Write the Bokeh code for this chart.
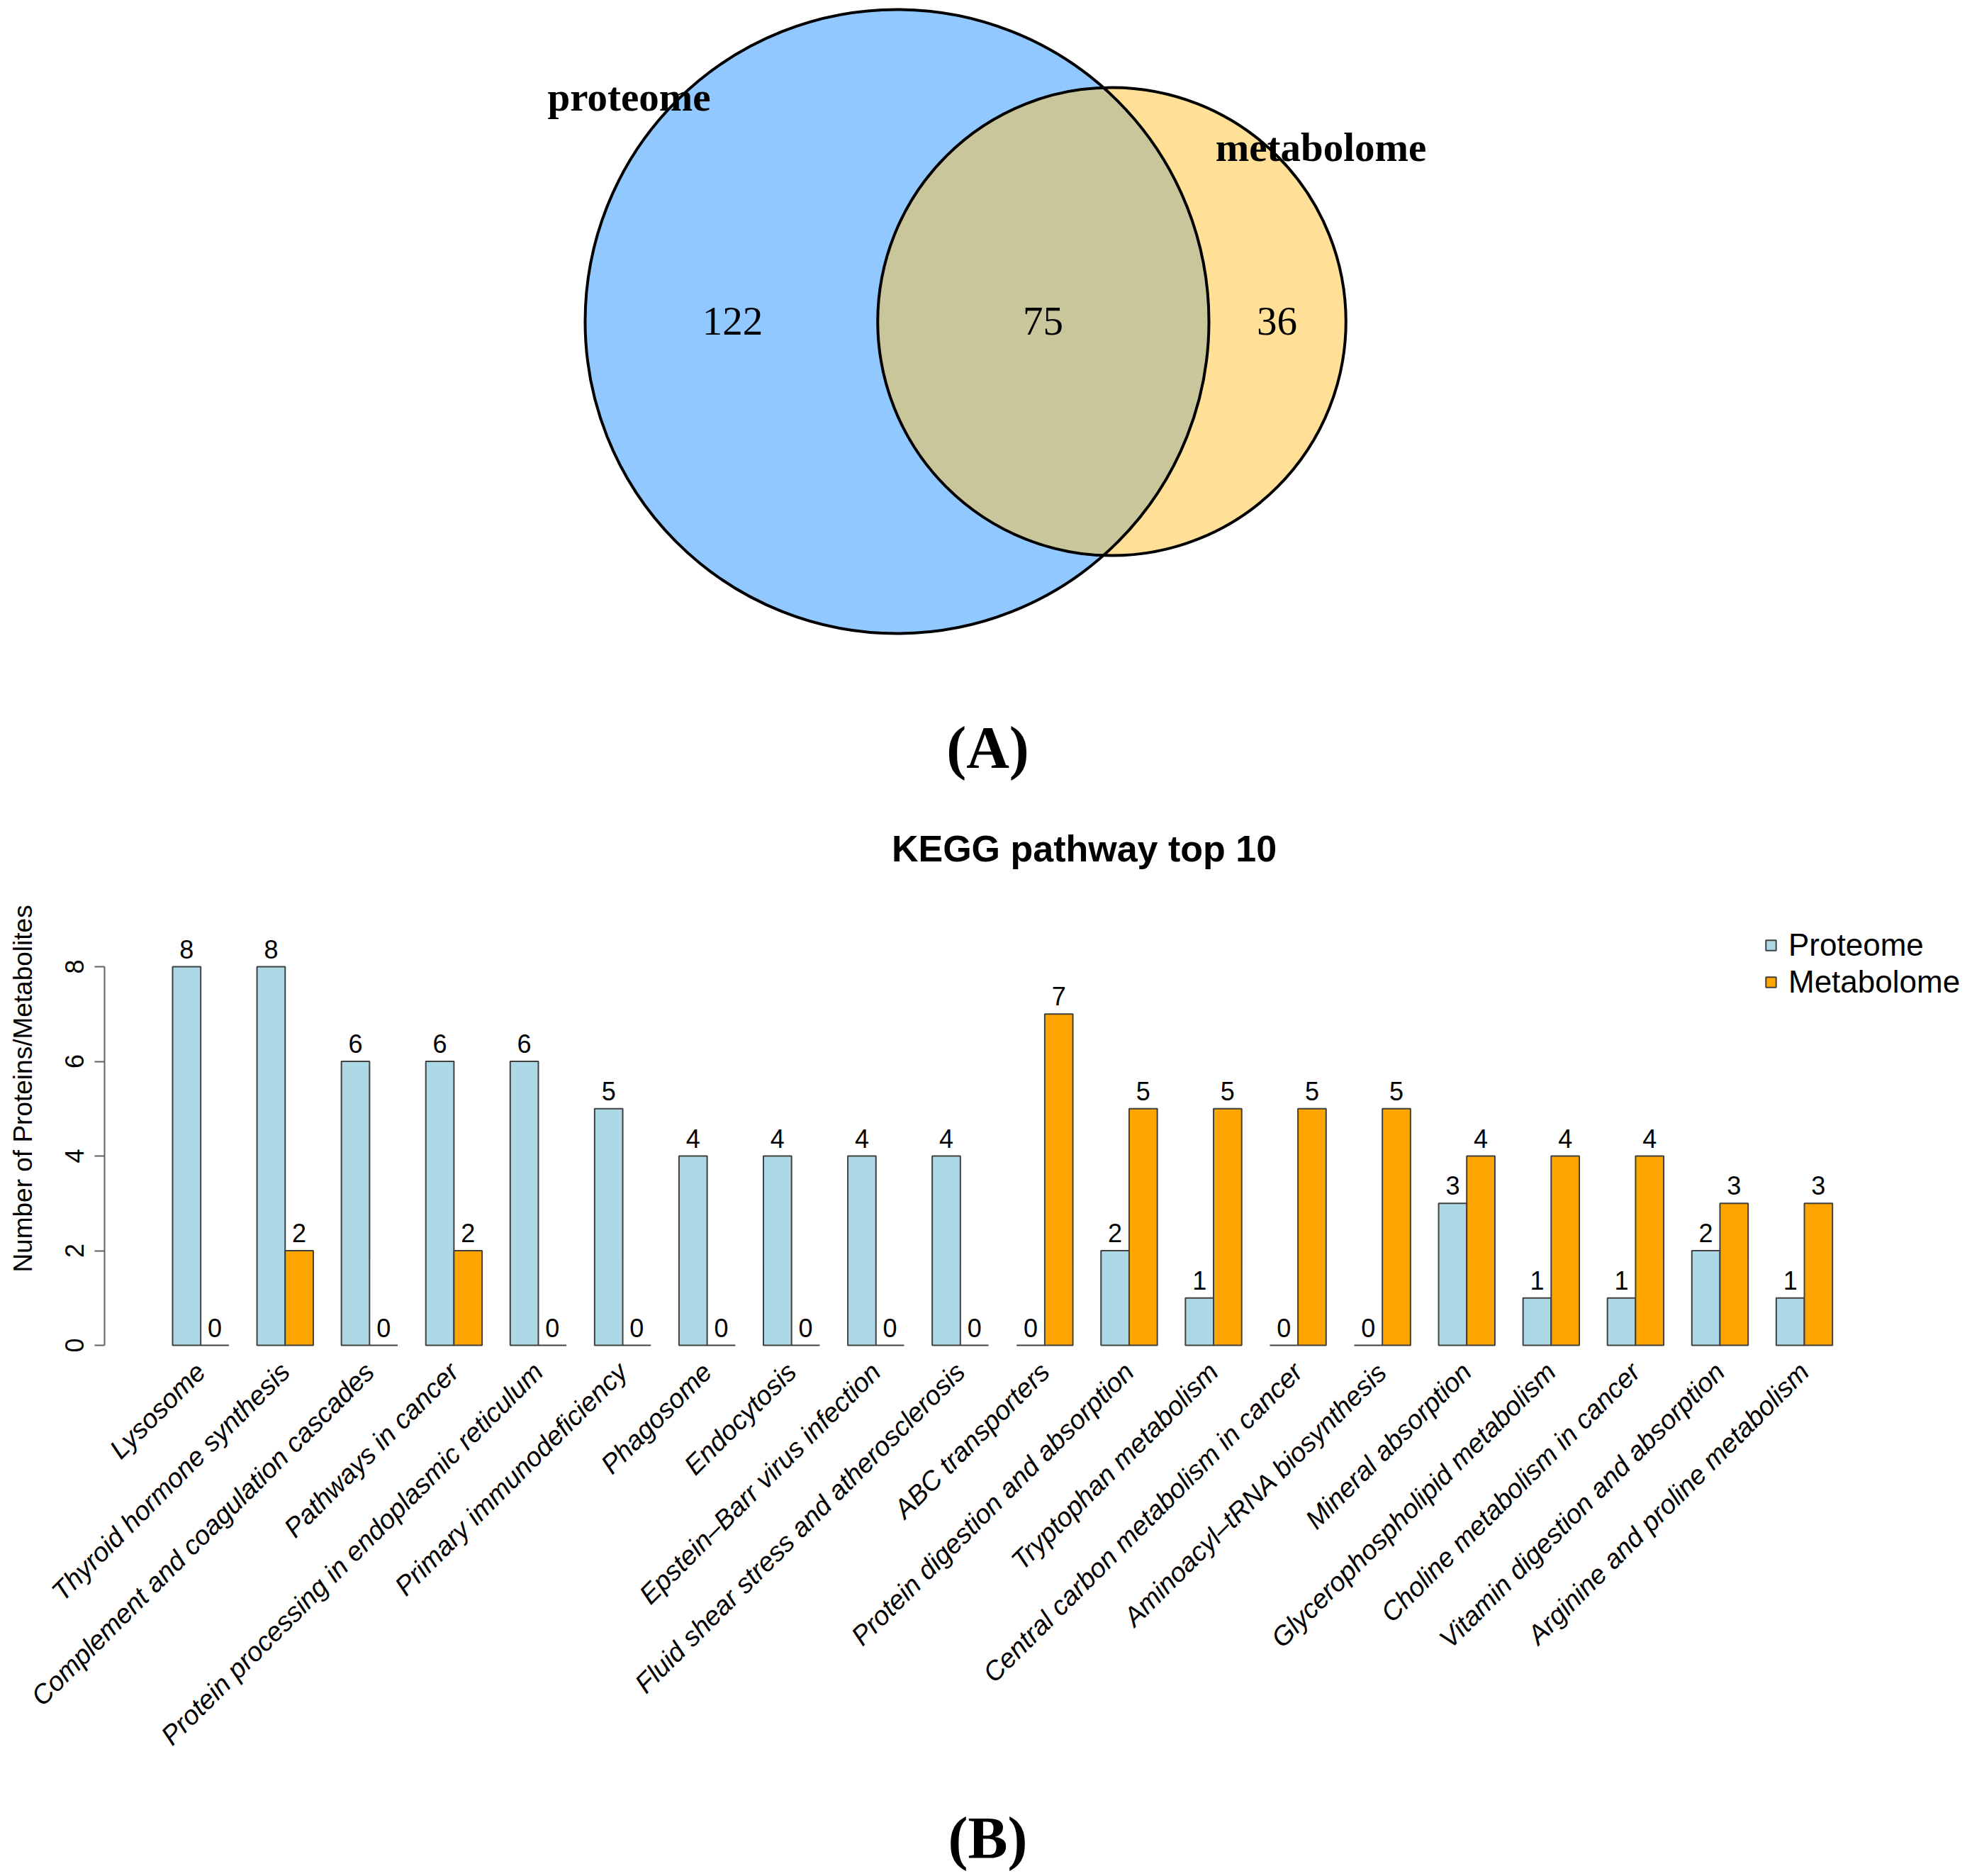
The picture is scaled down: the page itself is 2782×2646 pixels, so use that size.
import numpy as np
from bokeh.plotting import figure
from bokeh.layouts import column
from bokeh.models import Range1d, FixedTicker, Legend, LegendItem, ColumnDataSource, Label
from bokeh.core.properties import value
from bokeh.embed import file_html
from bokeh.resources import INLINE

# ---------------- data ----------------
venn_sets = ["proteome", "metabolome"]
venn_only = [122, 36]
venn_both = 75

pathways = [
    "Lysosome", "Thyroid hormone synthesis", "Complement and coagulation cascades",
    "Pathways in cancer", "Protein processing in endoplasmic reticulum",
    "Primary immunodeficiency", "Phagosome", "Endocytosis",
    "Epstein\u2013Barr virus infection", "Fluid shear stress and atherosclerosis",
    "ABC transporters", "Protein digestion and absorption", "Tryptophan metabolism",
    "Central carbon metabolism in cancer", "Aminoacyl\u2013tRNA biosynthesis",
    "Mineral absorption", "Glycerophospholipid metabolism",
    "Choline metabolism in cancer", "Vitamin digestion and absorption",
    "Arginine and proline metabolism",
]
proteome = [8, 8, 6, 6, 6, 5, 4, 4, 4, 4, 0, 2, 1, 0, 0, 3, 1, 1, 2, 1]
metabolome = [0, 2, 0, 2, 0, 0, 0, 0, 0, 0, 7, 5, 5, 5, 5, 4, 4, 4, 3, 3]
y_ticks = [0, 2, 4, 6, 8]

SERIF = "Liberation Serif"
SANS = "Liberation Sans"

W = 2766
FL = 147          # common frame left (pixels)
H1, H2, H3 = 1160, 1380, 100

# ---------------- panel A: Venn ----------------
p1 = figure(width=W, height=H1, x_range=Range1d(FL, W), y_range=Range1d(H1, 0),
            output_backend="svg", toolbar_location=None,
            min_border_left=FL, min_border_right=0, min_border_top=0, min_border_bottom=0)
p1.axis.visible = False
p1.grid.visible = False
p1.outline_line_color = None

totals = [venn_only[0] + venn_both, venn_only[1] + venn_both]
k = 440.0 / np.sqrt(totals[0])
r1, r2 = k * np.sqrt(totals[0]), k * np.sqrt(totals[1])
cy = 453.0
c1x = 1265.0
c2x = c1x + 303.0

p1.circle(x=[c1x], y=[cy], radius=[r1], fill_color="#90C8FF", line_color=None)
p1.circle(x=[c2x], y=[cy], radius=[r2], fill_color="#FFE096", line_color=None)
d = c2x - c1x
a = (d * d + r1 * r1 - r2 * r2) / (2 * d)
h = np.sqrt(r1 * r1 - a * a)
t1 = np.arctan2(h, a)
t2 = np.arctan2(h, a - d)
ang1 = np.linspace(-t1, t1, 200)
ang2 = np.linspace(t2, 2 * np.pi - t2, 200)
lx = np.concatenate([c1x + r1 * np.cos(ang1), c2x + r2 * np.cos(ang2)])
ly = np.concatenate([cy + r1 * np.sin(ang1), cy + r2 * np.sin(ang2)])
p1.patch(lx, ly, fill_color="#C8C69A", line_color=None)
p1.circle(x=[c1x, c2x], y=[cy, cy], radius=[r1, r2], fill_color=None,
          line_color="black", line_width=4)

p1.text(x=[1033, 1471, 1801], y=[452, 452, 452],
        text=[str(venn_only[0]), str(venn_both), str(venn_only[1])],
        text_font=value(SERIF), text_font_size="57px", text_align="center",
        text_baseline="middle", text_color="black")
p1.text(x=[887, 1863], y=[136, 207], text=venn_sets,
        text_font=value(SERIF), text_font_size="57px", text_font_style="bold",
        text_align="center", text_baseline="middle", text_color="black")
p1.text(x=[1393], y=[1054], text=["(A)"], text_font=value(SERIF), text_font_size="84px",
        text_font_style="bold", text_align="center", text_baseline="middle", text_color="black")

# ---------------- panel B: bars ----------------
n = len(pathways)
idx = np.arange(n)
xp = 3 * idx + 1.5
xm = 3 * idx + 2.5
xc = 3 * idx + 2.0

px_per_x = 39.69
px_per_y = 66.75
top2 = H1
frame_top, frame_bottom = H1, 1910
y0_page = 1897
x1_page = 243
x_start = 1 - (x1_page - FL) / px_per_x
x_end = x_start + (W - FL) / px_per_x
y_start = -(frame_bottom - y0_page) / px_per_y
y_end = (y0_page - frame_top) / px_per_y

p2 = figure(width=W, height=H2, x_range=Range1d(x_start, x_end), y_range=Range1d(y_start, y_end),
            output_backend="svg", toolbar_location=None,
            min_border_left=FL, min_border_right=0,
            min_border_top=frame_top - top2, min_border_bottom=(top2 + H2) - frame_bottom)
p2.grid.visible = False
p2.outline_line_color = None

p2.add_layout(Label(x=1 + (1529 - x1_page) / px_per_x, y=(y0_page - 1196) / px_per_y,
                    text="KEGG pathway top 10", text_align="center", text_baseline="middle",
                    text_font=SANS, text_font_size="52px", text_font_style="bold",
                    text_color="black"))

src = ColumnDataSource(dict(xp=xp, xm=xm, xc=xc, prot=proteome, met=metabolome,
                            prot_lbl=[str(v) for v in proteome],
                            met_lbl=[str(v) for v in metabolome]))
rp = p2.vbar(x="xp", top="prot", bottom=0, width=1.0, source=src,
             fill_color="#ADD8E6", line_color="#404040", line_width=2)
rm = p2.vbar(x="xm", top="met", bottom=0, width=1.0, source=src,
             fill_color="#FFA500", line_color="#404040", line_width=2)
p2.text(x="xp", y="prot", text="prot_lbl", source=src, y_offset=-25,
        text_font=value(SANS), text_font_size="36px", text_align="center",
        text_baseline="middle", text_color="black")
p2.text(x="xm", y="met", text="met_lbl", source=src, y_offset=-25,
        text_font=value(SANS), text_font_size="36px", text_align="center",
        text_baseline="middle", text_color="black")

# y axis
ya = p2.yaxis[0]
ya.ticker = FixedTicker(ticks=y_ticks)
ya.bounds = (0, 8)
ya.axis_label = "Number of Proteins/Metabolites"
ya.axis_label_text_font = SANS
ya.axis_label_text_font_size = "37px"
ya.axis_label_text_font_style = "normal"
ya.axis_label_text_color = "black"
ya.axis_label_standoff = 36
ya.major_label_orientation = "vertical"
ya.major_label_text_font = SANS
ya.major_label_text_font_size = "36px"
ya.major_label_text_color = "black"
ya.major_label_standoff = 16
ya.axis_line_color = "#606060"
ya.axis_line_width = 2
ya.major_tick_line_color = "#606060"
ya.major_tick_line_width = 2
ya.major_tick_out = 14
ya.major_tick_in = 0
ya.minor_tick_line_color = None

# x axis (category labels)
xa = p2.xaxis[0]
xa.ticker = FixedTicker(ticks=list(xc))
xa.major_label_overrides = {float(x): lab for x, lab in zip(xc, pathways)}
xa.major_label_orientation = np.pi / 4
xa.major_label_text_font = SANS
xa.major_label_text_font_size = "38px"
xa.major_label_text_font_style = "italic"
xa.major_label_text_color = "black"
xa.major_label_standoff = 12
xa.axis_line_color = None
xa.major_tick_line_color = None
xa.minor_tick_line_color = None

legend = Legend(items=[LegendItem(label="Proteome", renderers=[rp]),
                       LegendItem(label="Metabolome", renderers=[rm])],
                location=(2489 - FL, frame_bottom - 1410),
                glyph_width=18, glyph_height=18, label_height=48, spacing=2,
                label_standoff=16, padding=0, margin=0,
                label_text_font=SANS, label_text_font_size="44px",
                label_text_color="black",
                border_line_color=None, background_fill_alpha=0)
p2.add_layout(legend)

# ---------------- (B) ----------------
top3 = H1 + H2
p3 = figure(width=W, height=H3, x_range=Range1d(FL, W), y_range=Range1d(top3 + H3, top3),
            output_backend="svg", toolbar_location=None,
            min_border_left=FL, min_border_right=0, min_border_top=0, min_border_bottom=0)
p3.axis.visible = False
p3.grid.visible = False
p3.outline_line_color = None
p3.text(x=[1393], y=[2592], text=["(B)"], text_font=value(SERIF), text_font_size="84px",
        text_font_style="bold", text_align="center", text_baseline="middle", text_color="black")

layout = column(p1, p2, p3, spacing=0)
open("out.html", "w").write(file_html(layout, INLINE))
